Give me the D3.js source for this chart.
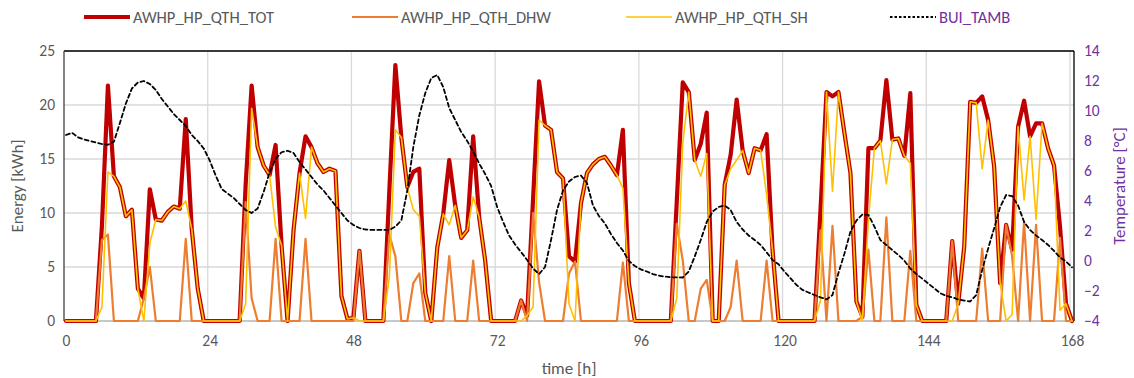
<!DOCTYPE html>
<html><head><meta charset="utf-8">
<script src="https://cdn.jsdelivr.net/npm/d3@7/dist/d3.min.js"></script>
<style>
body{margin:0;background:#fff;}
svg text{font-family:"Carlito","Liberation Sans Narrow","Liberation Sans",Arial,sans-serif;}
</style></head><body>
<svg id="chart" width="1134" height="378"></svg>
<script>
// time index (hours 0..168)
const hoursStart = 0, hoursEnd = 168;
const xTicks = [0, 24, 48, 72, 96, 120, 144, 168];
const energyTicks = [0, 5, 10, 15, 20, 25];
const tempTicks = [-4, -2, 0, 2, 4, 6, 8, 10, 12, 14];

const seriesNames = ["AWHP_HP_QTH_TOT", "AWHP_HP_QTH_DHW", "AWHP_HP_QTH_SH", "BUI_TAMB"];

const qthTot = [
0,0,0,0,0,0,8.8,21.8,13.4,12.4,9.7,10.3,3.0,2.1,12.2,9.4,9.3,10.1,10.6,10.4,
18.7,8.5,3.0,0,0,0,0,0,0,0,12.6,21.8,16.1,14.4,13.5,16.3,7.0,0,8.4,13.7,
17.1,16.1,14.6,13.8,14.1,13.9,2.3,0.2,0.3,6.5,0,0,0,0,12.1,23.7,17.0,12.4,13.8,14.1,
2.6,0,6.8,9.9,14.9,10.7,7.7,8.4,17.1,9.6,5.6,0,0,0,0,0,1.9,0.5,11.3,22.2,
18.1,17.7,13.8,13.2,6.0,5.5,10.9,13.7,14.5,15.0,15.2,14.4,13.5,17.7,3.5,0,0,0,0,0,
0,0,11.1,22.1,21.2,14.9,16.4,19.3,0,0,12.6,15.4,20.5,15.8,13.7,16.0,15.8,17.3,6.5,0,
0,0,0,0,0,0,10.3,21.2,20.8,21.2,17.4,13.7,1.8,0.4,16.0,16.0,16.7,22.3,16.8,16.9,
15.3,21.1,1.5,0,0,0,0,0,7.4,1.6,6.9,20.3,20.2,20.8,18.6,14.3,3.5,8.9,6.6,18.0,
20.4,17.1,18.3,18.3,16.0,14.4,8.7,1.6,0
];
const qthDhw = [
0,0,0,0,0,0,7.5,8.0,0,0,0,0,0,2.1,5.0,0,0,0,0,0,
7.6,0,0,0,0,0,0,0,0,0,11.0,2.1,0,0,0,7.6,0,0,0,0,
7.6,0,0,0,0,0,0,0,0,6.5,0,0,0,0,8.0,6.0,0,0,3.5,4.4,
0,0,0,0,6.0,0,0,0,5.6,0,0,0,0,0,0,0,1.9,0,10.0,3.6,
0,0,0,0,4.4,5.5,0,0,0,0,0,0,0,5.4,0,0,0,0,0,0,
0,0,9.0,5.6,0,0,3.0,3.8,0,0,0,1.3,5.6,0,0,0,0,5.6,0,0,
0,0,0,0,0,0,8.4,0,8.8,0,0,0,0,0.4,6.6,0,0,9.6,0,0,
0,6.5,0,0,0,0,0,0,7.4,0,0,0,0,6.7,0,0,0,8.9,6.0,0,
9.2,0,8.9,0,0,0,7.7,0,0
];
const qthSh = [
0,0,0,0,0,0,1.3,13.8,13.4,12.4,9.7,10.3,3.0,0,7.2,9.4,9.3,10.1,10.6,10.4,
11.1,8.5,3.0,0,0,0,0,0,0,0,1.6,19.7,16.1,14.4,13.5,8.7,7.0,0,8.4,13.7,
9.5,16.1,14.6,13.8,14.1,13.9,2.3,0.2,0.3,0,0,0,0,0,4.1,17.7,17.0,12.4,10.3,9.7,
2.6,0,6.8,9.9,8.9,10.7,7.7,8.4,11.5,9.6,5.6,0,0,0,0,0,0,0.5,1.3,18.6,
18.1,17.7,13.8,13.2,1.6,0,10.9,13.7,14.5,15.0,15.2,14.4,13.5,12.3,3.5,0,0,0,0,0,
0,0,2.1,16.5,21.2,14.9,13.4,15.5,0,0,12.6,14.1,14.9,15.8,13.7,16.0,15.8,11.7,6.5,0,
0,0,0,0,0,0,1.9,21.2,12.0,21.2,17.4,13.7,1.8,0,9.4,16.0,16.7,12.7,16.8,16.9,
15.3,14.6,1.5,0,0,0,0,0,0,1.6,6.9,20.3,20.2,14.1,18.6,14.3,3.5,0,0.6,18.0,
11.2,17.1,9.4,18.3,16.0,14.4,1.0,1.6,0
];
const buiTamb = [
8.4,8.55,8.25,8.1,8.0,7.9,7.8,7.75,7.95,9.2,10.5,11.5,11.9,12.0,11.8,11.4,10.8,10.3,9.8,9.4,
9.0,8.4,8.0,7.5,6.7,5.7,4.8,4.5,4.2,3.8,3.4,3.2,3.5,4.6,5.9,6.8,7.25,7.35,7.2,6.6,
6.1,5.6,5.1,4.7,4.2,3.7,3.2,2.7,2.4,2.2,2.1,2.07,2.07,2.07,2.07,2.3,2.7,4.7,7.6,9.7,
11.2,12.2,12.4,11.6,10.2,9.4,8.6,8.0,7.3,6.5,5.8,5.0,3.6,2.6,1.7,1.1,0.6,0.07,-0.5,-0.87,
-0.4,1.4,3.4,4.7,5.3,5.6,5.7,5.2,3.7,3.0,2.5,1.8,1.2,0.7,0.0,-0.33,-0.56,-0.7,-0.87,-0.98,
-1.04,-1.09,-1.09,-1.1,-0.7,0.3,1.4,2.6,3.3,3.6,3.7,3.4,2.6,2.1,1.7,1.4,1.07,0.58,0.07,-0.22,
-0.71,-1.16,-1.6,-1.93,-2.1,-2.27,-2.42,-2.56,-2.27,-0.8,0.5,1.96,2.7,3.1,3.07,2.3,1.4,1.07,0.73,0.4,
0.02,-0.5,-0.87,-1.18,-1.5,-1.82,-2.15,-2.33,-2.42,-2.56,-2.64,-2.7,-2.27,-0.6,0.84,2.18,3.6,4.4,4.33,3.7,
2.6,2.07,1.7,1.4,1.07,0.67,0.24,-0.04,-0.42
];

const svg = d3.select("#chart");
const plot = {left: 64, right: 1074, top: 51, bottom: 321};

const x = d3.scaleLinear().domain([hoursStart, hoursEnd]).range([66, 1072]);
const yL = d3.scaleLinear().domain([0, 25]).range([plot.bottom, plot.top]);
const yR = d3.scaleLinear().domain([-4, 14]).range([plot.bottom, plot.top]);

const gray = "#595959";
const purple = "#7030A0";

// gridlines
const grid = svg.append("g");
grid.selectAll("line.h").data(energyTicks).enter().append("line")
  .attr("x1", plot.left).attr("x2", plot.right)
  .attr("y1", d => yL(d)).attr("y2", d => yL(d))
  .attr("stroke", "#D9D9D9").attr("stroke-width", 1.3);
grid.selectAll("line.v").data(xTicks.slice(1)).enter().append("line")
  .attr("x1", d => x(d) - 2).attr("x2", d => x(d) - 2)
  .attr("y1", plot.top).attr("y2", plot.bottom)
  .attr("stroke", "#D9D9D9").attr("stroke-width", 1.3);

// frame
svg.append("line").attr("x1", plot.left).attr("x2", plot.right).attr("y1", plot.top).attr("y2", plot.top)
  .attr("stroke", "#000").attr("stroke-width", 1.3);
svg.append("line").attr("x1", plot.right).attr("x2", plot.right).attr("y1", plot.top).attr("y2", plot.bottom)
  .attr("stroke", "#000").attr("stroke-width", 1.3);
svg.append("line").attr("x1", plot.left).attr("x2", plot.left).attr("y1", plot.top).attr("y2", plot.bottom)
  .attr("stroke", "#404040").attr("stroke-width", 1.3);
svg.append("line").attr("x1", plot.left).attr("x2", plot.right).attr("y1", plot.bottom).attr("y2", plot.bottom)
  .attr("stroke", "#BFBFBF").attr("stroke-width", 1.3);

// axes via d3 axis generators (text only)
const axL = svg.append("g").attr("transform", `translate(${plot.left - 9},0)`)
  .call(d3.axisLeft(yL).tickValues(energyTicks).tickSize(0).tickPadding(0));
const axR = svg.append("g").attr("transform", `translate(${plot.right + 10},0)`)
  .call(d3.axisRight(yR).tickValues(tempTicks).tickSize(0).tickPadding(0));
const axB = svg.append("g").attr("transform", `translate(0,${plot.bottom + 8})`)
  .call(d3.axisBottom(x).tickValues(xTicks).tickSize(0).tickPadding(6).tickFormat(d3.format("d")));
[axL, axR, axB].forEach(a => { a.select(".domain").remove(); a.selectAll("text").attr("font-size", 15.5); });
axL.selectAll("text").attr("fill", gray);
axB.selectAll("text").attr("fill", gray);
axR.selectAll("text").attr("fill", purple);

// axis titles
svg.append("text").attr("transform", `translate(23,${(plot.top + plot.bottom) / 2}) rotate(-90)`)
  .attr("text-anchor", "middle").attr("fill", gray).attr("font-size", 17).text("Energy [kWh]");
svg.append("text").attr("transform", `translate(1125,${(plot.top + plot.bottom) / 2}) rotate(-90)`)
  .attr("text-anchor", "middle").attr("fill", purple).attr("font-size", 17).text("Temperature [°C]");
svg.append("text").attr("x", (plot.left + plot.right) / 2).attr("y", 374)
  .attr("text-anchor", "middle").attr("fill", gray).attr("font-size", 17).text("time [h]");

// lines
const idx = qthTot.map((_, i) => hoursStart + i);
const lineE = d3.line().x((d, i) => x(idx[i])).y(d => yL(d));
const lineT = d3.line().x((d, i) => x(idx[i])).y(d => yR(d));

const styles = [
  {data: qthTot, gen: lineE, color: "#C00000", w: 4.2, dash: null},
  {data: qthDhw, gen: lineE, color: "#ED7D31", w: 2.2, dash: null},
  {data: qthSh, gen: lineE, color: "#FFC000", w: 1.6, dash: null},
  {data: buiTamb, gen: lineT, color: "#000000", w: 1.8, dash: "4,3"}
];
styles.forEach(s => {
  svg.append("path").attr("d", s.gen(s.data)).attr("fill", "none")
    .attr("stroke", s.color).attr("stroke-width", s.w)
    .attr("stroke-linejoin", "round").attr("stroke-linecap", "round")
    .attr("stroke-dasharray", s.dash);
});

// legend
const legendX = [84, 352, 626, 890];
const leg = svg.append("g");
seriesNames.forEach((name, i) => {
  const s = styles[i];
  leg.append("line").attr("x1", legendX[i]).attr("x2", legendX[i] + 46)
    .attr("y1", 17).attr("y2", 17)
    .attr("stroke", s.color).attr("stroke-width", s.w)
    .attr("stroke-dasharray", s.dash ? "2.5,2" : null);
  leg.append("text").attr("x", legendX[i] + 49).attr("y", 22.5)
    .attr("fill", i === 3 ? purple : gray).attr("font-size", 16.5).text(name);
});
</script>
</body></html>
